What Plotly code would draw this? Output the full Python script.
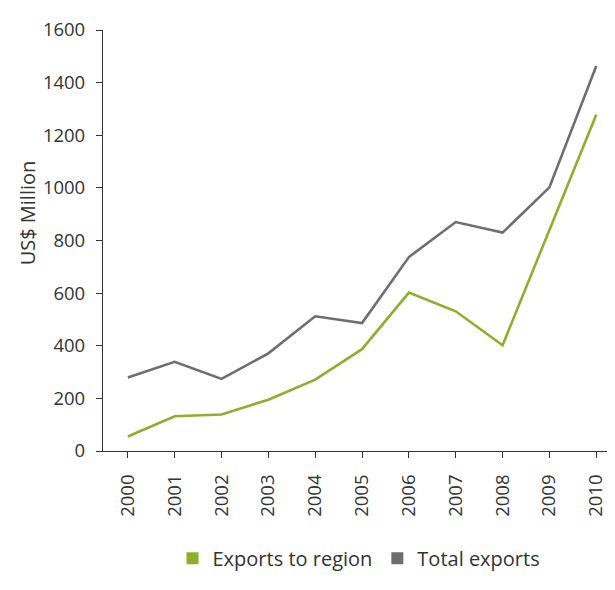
import plotly.graph_objects as go

years = [2000, 2001, 2002, 2003, 2004, 2005, 2006, 2007, 2008, 2009, 2010]
exports_to_region = [55, 132, 139, 195, 271, 387, 602, 531, 402, 840, 1278]
total_exports = [279, 339, 274, 371, 512, 486, 737, 870, 830, 1002, 1463]
y_ticks = [0, 200, 400, 600, 800, 1000, 1200, 1400, 1600]

GREEN = "#8cb02a"
GREY = "#6d6e71"
FONT = "'Open Sans', sans-serif"
TXT = "#333333"

fig = go.Figure()
fig.add_trace(go.Scatter(x=years, y=total_exports, mode="lines",
                         line=dict(color=GREY, width=2.6), showlegend=False))
fig.add_trace(go.Scatter(x=years, y=exports_to_region, mode="lines",
                         line=dict(color=GREEN, width=2.6), showlegend=False))
# legend entries with square swatches
fig.add_trace(go.Scatter(x=[None], y=[None], mode="markers", name="Exports to region",
                         marker=dict(symbol="square", size=12, color=GREEN)))
fig.add_trace(go.Scatter(x=[None], y=[None], mode="markers", name="Total exports",
                         marker=dict(symbol="square", size=12, color=GREY)))

fig.update_layout(
    width=615, height=590,
    margin=dict(l=95, r=8, t=15, b=147),
    paper_bgcolor="white", plot_bgcolor="white",
    font=dict(family=FONT, size=18, color=TXT),
    showlegend=True,
    legend=dict(orientation="h", x=0.5, xanchor="center", y=-0.255, yanchor="middle",
                font=dict(size=20, color=TXT), itemwidth=30, traceorder="normal"),
    xaxis=dict(range=[1999.47, 2010.4], tickmode="array", tickvals=years,
               ticktext=[str(y) for y in years], tickangle=-90,
               showgrid=False, zeroline=False, showline=True, linecolor=TXT,
               linewidth=1.2, ticks="outside", ticklen=6, tickcolor=TXT,
               ticklabelstandoff=9,
               tickfont=dict(size=18.5, color=TXT)),
    yaxis=dict(range=[0, 1600], tickmode="array", tickvals=y_ticks,
               showgrid=False, zeroline=False, showline=True, linecolor=TXT,
               linewidth=1.2, ticks="outside", ticklen=6, tickcolor=TXT,
               ticklabelstandoff=7,
               tickfont=dict(size=18.5, color=TXT)),
    annotations=[dict(text="US$ Million", xref="paper", yref="paper",
                      x=-0.148, y=0.565, xanchor="center", yanchor="middle",
                      textangle=-90, showarrow=False,
                      font=dict(size=20, color=TXT))],
)

fig.write_html("out.html")
